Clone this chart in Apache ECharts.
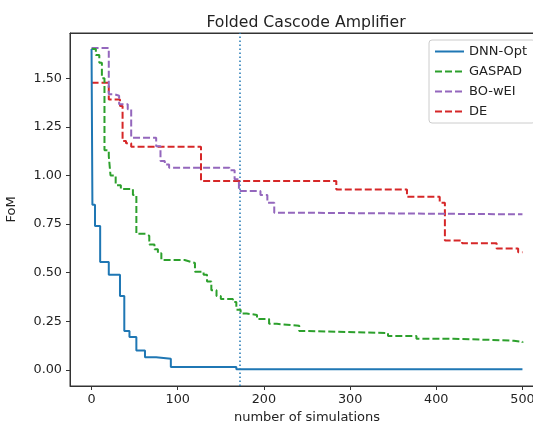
<!DOCTYPE html>
<html>
<head>
<meta charset="utf-8">
<script src="https://cdn.jsdelivr.net/npm/echarts@6/dist/echarts.min.js"></script>
<style>
html,body{margin:0;padding:0;background:#fff;}
#c{width:533px;height:425px;}
</style>
</head>
<body>
<div id="c"></div>
<script>
// ---- data ----
const xTicks = [0, 100, 200, 300, 400, 500];
const yTicks = [0, 0.25, 0.5, 0.75, 1.0, 1.25, 1.5];
const seriesNames = ['DNN-Opt', 'GASPAD', 'BO-wEI', 'DE'];

const dnnX = [0, 1, 4, 10, 20, 33, 38, 44, 52, 62, 75, 92, 168, 500];
const dnnY = [1.65, 0.85, 0.74, 0.555, 0.49, 0.38, 0.20, 0.17, 0.10, 0.065, 0.058, 0.015, 0.003, 0.003];

const gaspadX = [0, 5, 9, 12, 15, 20, 22, 28, 34, 48, 52, 63, 67, 73, 77, 81, 108, 116, 120, 130, 134, 139, 145, 150, 164, 168, 173, 180, 192, 206, 215, 241, 250, 344, 377, 420, 460, 490, 500];
const gaspadY = [1.65, 1.62, 1.58, 1.50, 1.13, 1.10, 1.00, 0.95, 0.93, 0.90, 0.70, 0.69, 0.645, 0.62, 0.60, 0.565, 0.555, 0.55, 0.505, 0.49, 0.455, 0.41, 0.38, 0.365, 0.35, 0.31, 0.29, 0.283, 0.262, 0.237, 0.227, 0.20, 0.19, 0.175, 0.16, 0.155, 0.15, 0.145, 0.14];

const bowX = [0, 20, 27, 32, 42, 46, 75, 80, 85, 90, 160, 166, 171, 196, 204, 212, 255, 500];
const bowY = [1.655, 1.417, 1.41, 1.366, 1.34, 1.194, 1.15, 1.074, 1.056, 1.04, 1.027, 0.98, 0.92, 0.90, 0.86, 0.808, 0.80, 0.80];

const deX = [0, 20, 33, 36, 40, 46, 127, 284, 366, 404, 410, 430, 470, 495, 500];
const deY = [1.477, 1.39, 1.357, 1.177, 1.165, 1.148, 0.971, 0.928, 0.89, 0.86, 0.665, 0.651, 0.624, 0.605, 0.605];

const markerX = 172;

// ---- chart ----
function pairs(xs, ys) { return xs.map((x, i) => [x, ys[i]]); }
const colors = ['#1f77b4', '#2ca02c', '#9467bd', '#d62728'];
const allData = [pairs(dnnX, dnnY), pairs(gaspadX, gaspadY), pairs(bowX, bowY), pairs(deX, deY)];
const fontFam = 'DejaVu Sans';

const series = seriesNames.map((name, i) => ({
  name: name,
  type: 'line',
  step: 'end',
  symbol: 'none',
  data: allData[i],
  color: colors[i],
  lineStyle: { width: 2, color: colors[i], type: i === 0 ? 'solid' : [7, 3] },
  z: 10 - i
}));
series.push({
  name: 'marker',
  type: 'line',
  data: [],
  markLine: {
    silent: true,
    symbol: 'none',
    label: { show: false },
    lineStyle: { color: '#1f77b4', type: [1.5, 2.5], width: 1.5 },
    data: [{ xAxis: markerX }]
  }
});

const chart = echarts.init(document.getElementById('c'), null, { renderer: 'canvas' });
chart.setOption({
  backgroundColor: '#fff',
  animation: false,
  title: {
    text: 'Folded Cascode Amplifier',
    left: 301, top: 10, textAlign: 'center',
    textStyle: { fontFamily: fontFam, fontSize: 15.7, fontWeight: 'normal', color: '#222' }
  },
  legend: {
    data: seriesNames,
    orient: 'vertical',
    left: 429, top: 40,
    itemWidth: 29, itemHeight: 12, itemGap: 7,
    padding: [5, 8, 5, 5],
    borderColor: '#ccc', borderWidth: 1, borderRadius: 3,
    backgroundColor: '#fff',
    itemStyle: { opacity: 0 },
    textStyle: { fontFamily: fontFam, fontSize: 13, color: '#222' }
  },
  grid: { left: 70, top: 33, width: 474, height: 353, show: true, borderColor: '#333', borderWidth: 1, outerBoundsMode: 'none', containLabel: false },
  xAxis: [{
    type: 'value', min: -25, max: 525,
    name: 'number of simulations', nameLocation: 'middle', nameGap: 25,
    nameTextStyle: { fontFamily: fontFam, fontSize: 13, color: '#222' },
    axisLine: { show: true, onZero: false, lineStyle: { color: '#333' } },
    axisTick: { show: true, length: 4, lineStyle: { color: '#333' }, customValues: xTicks },
    axisLabel: { customValues: xTicks, fontFamily: fontFam, fontSize: 12.8, color: '#222', margin: 7 },
    splitLine: { show: false }
  }, {
    type: 'value', min: -25, max: 525, position: 'top',
    axisLine: { show: true, onZero: false, lineStyle: { color: '#333' } },
    axisTick: { show: false }, axisLabel: { show: false }, splitLine: { show: false }
  }],
  yAxis: {
    type: 'value', min: -0.0825, max: 1.7325,
    name: 'FoM', nameLocation: 'middle', nameGap: 52, nameRotate: 90,
    nameTextStyle: { fontFamily: fontFam, fontSize: 13, color: '#222' },
    axisLine: { show: true, onZero: false, lineStyle: { color: '#333' } },
    axisTick: { show: true, length: 4, lineStyle: { color: '#333' }, customValues: yTicks },
    axisLabel: { customValues: yTicks, fontFamily: fontFam, fontSize: 12.8, color: '#222', margin: 8,
      formatter: v => v.toFixed(2) },
    splitLine: { show: false }
  },
  series: series
});
</script>
</body>
</html>
